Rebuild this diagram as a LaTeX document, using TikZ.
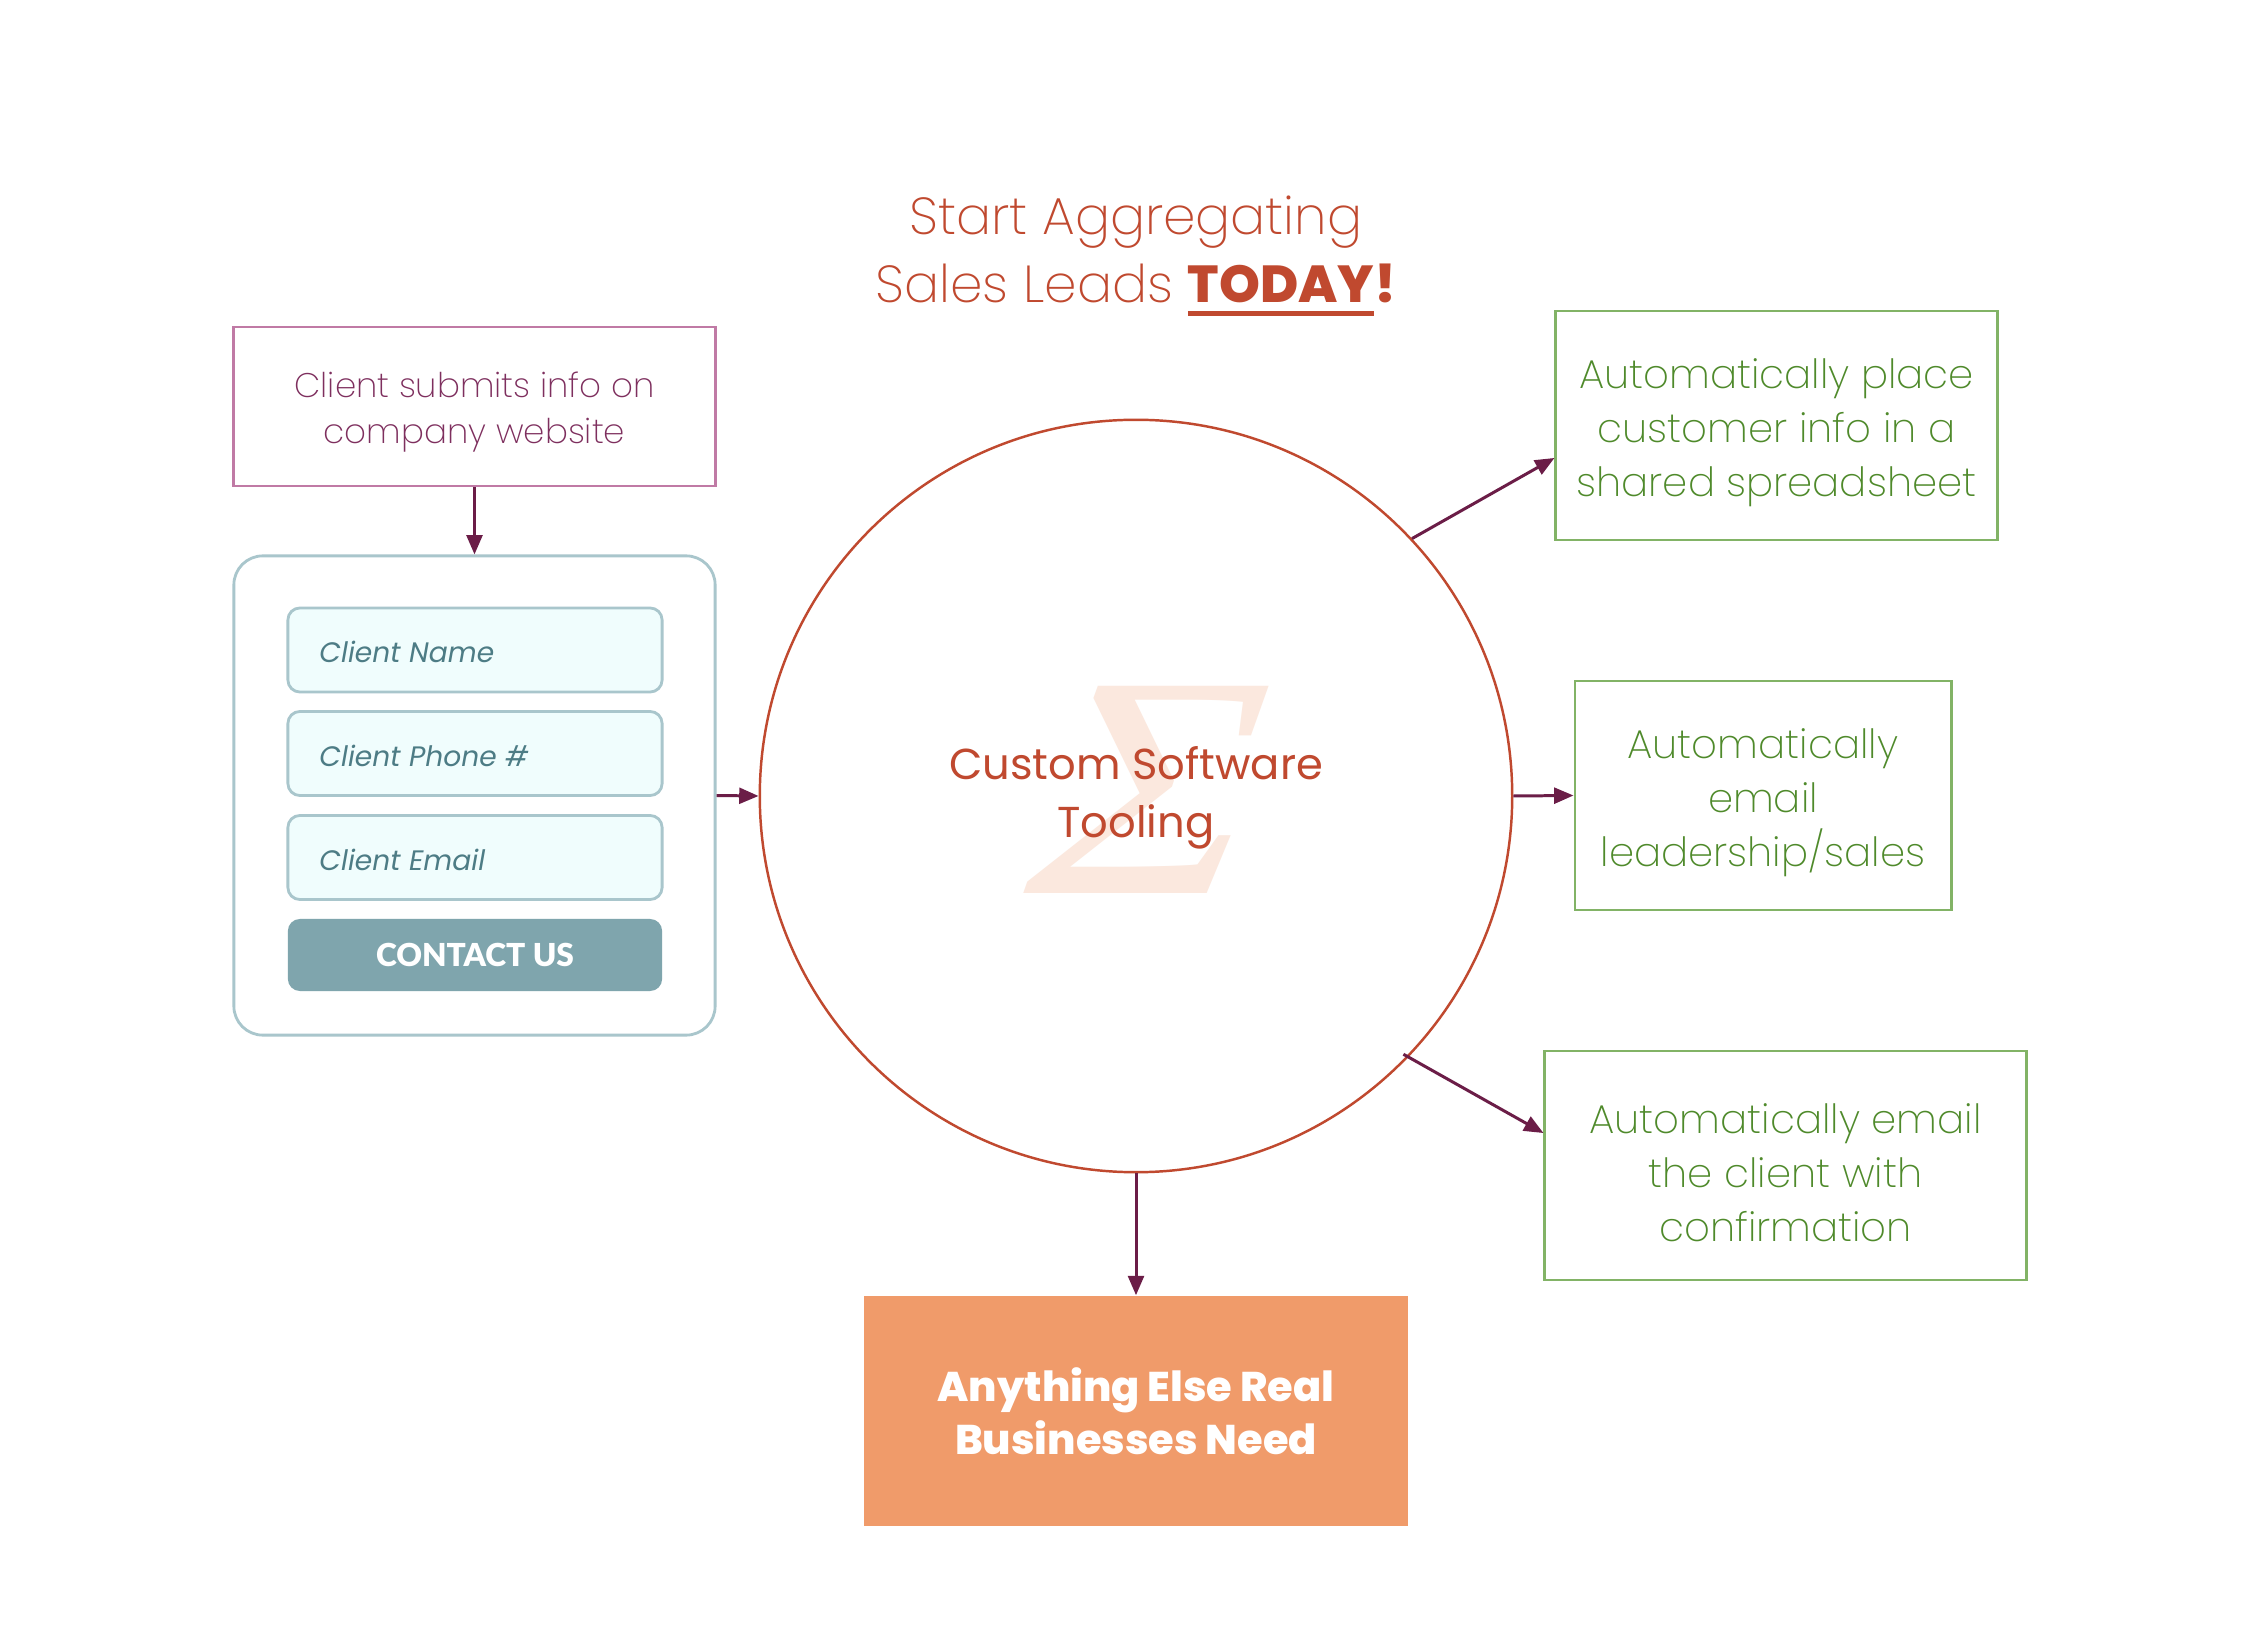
\documentclass[tikz,border=0pt]{standalone}
\usepackage{fontspec}
\usetikzlibrary{arrows.meta,calc}
\setmainfont{Poppins}
\newfontfamily\lightf{Poppins ExtraLight}
\newfontfamily\medf{Poppins}
\newfontfamily\heavyf{Poppins ExtraBold}
\newfontfamily\latof{Lato Black}
\newfontfamily\sigf{Liberation Serif}
\definecolor{rust}{HTML}{C0492F}
\definecolor{arrowc}{HTML}{6B1D47}
\definecolor{pinkb}{HTML}{C07AA5}
\definecolor{pinkt}{HTML}{7E2F5E}
\definecolor{greenb}{HTML}{82B366}
\definecolor{greent}{HTML}{4F8A2B}
\definecolor{formb}{HTML}{A9C6CC}
\definecolor{fieldf}{HTML}{F0FDFD}
\definecolor{fieldt}{HTML}{4D7C85}
\definecolor{btnf}{HTML}{7FA5AD}
\definecolor{orangef}{HTML}{F09B6A}
\definecolor{sigc}{HTML}{FBE8DE}
\newcommand{\thickul}[1]{\setbox0\hbox{#1}\rlap{\rule[-3.8pt]{\wd0}{1.4pt}}\box0}
\begin{document}
\begin{tikzpicture}[x=0.01cm,y=-0.01cm,
  arr/.style={draw=arrowc, line width=0.85pt, -{Triangle[length=5.5pt,width=4.5pt]}},
  greenbox/.style={draw=greenb, line width=0.8pt, minimum height=2.29cm},
  greentext/.style={align=center, text=greent, font=\lightf\fontsize{11.45}{15.4}\selectfont},
  fieldbox/.style={draw=formb, fill=fieldf, line width=0.8pt, rounded corners=0.12cm,
     minimum width=3.74cm, minimum height=0.84cm},
  fieldtext/.style={anchor=west, text=fieldt, font=\medf\itshape\fontsize{8.0}{10}\selectfont}]
\useasboundingbox[fill=white] (0,0) rectangle (2266,1640);

% title
\node[align=center, text=rust, font=\lightf\fontsize{14.8}{19.35}\selectfont] (title) at (1136,256)
  {Start Aggregating\\Sales Leads {\heavyf\thickul{TODAY}!}};

% left side
\node[draw=pinkb, line width=0.8pt, minimum width=4.81cm, minimum height=1.59cm] (client) at (474.5,406.5) {};
\node[align=center, text=pinkt, font=\lightf\fontsize{9.7}{13.1}\selectfont] (clientt) at (474.5,412.5)
  {Client submits info on\\company website};
\node[draw=formb, line width=0.8pt, rounded corners=0.29cm, minimum width=4.81cm, minimum height=4.79cm] (form) at (474.5,795.5) {};
\node[fieldbox] (f1) at (475,650) {};
\node[fieldbox] (f2) at (475,753.5) {};
\node[fieldbox] (f3) at (475,857.5) {};
\node[fill=btnf, rounded corners=0.12cm, minimum width=3.74cm, minimum height=0.72cm,
  text=white, font=\latof\fontsize{9.0}{10}\selectfont] (btn) at (475,955) {CONTACT US};
\node[fieldtext] (t1) at (307,652) {Client Name};
\node[fieldtext] (t2) at (307,755.5) {Client Phone \#};
\node[fieldtext] (t3) at (307,859.5) {Client Email};

% circle
\node[circle, draw=rust, line width=0.7pt, minimum size=7.52cm, inner sep=0pt] (c) at (1136,796) {};
\begin{scope}[shift={(1150,790)}]
\node[inner sep=0pt, xscale=1.2, xslant=0.1, transform shape, text=sigc,
  font=\sigf\itshape\fontsize{90}{90}\selectfont] (sig) at (0,0) {Σ};
\end{scope}
\node[align=center, text=rust, font=\medf\fontsize{12.3}{16.5}\selectfont] (ctext) at (1136,798)
  {Custom Software\\Tooling};

% right boxes
\node[greenbox, minimum width=4.41cm] (b1) at (1776.5,425.5) {};
\node[greentext] (b1t) at (1776.5,432.5) {Automatically place\\customer info in a\\shared spreadsheet};
\node[greenbox, minimum width=3.76cm] (b2) at (1763,795.5) {};
\node[greentext] (b2t) at (1763,802.5) {Automatically\\email\\leadership/sales};
\node[greenbox, minimum width=4.81cm] (b3) at (1785.5,1165.5) {};
\node[greentext] (b3t) at (1785.5,1172.5) {Automatically email\\the client with\\confirmation};

% bottom box
\node[fill=orangef, minimum width=5.44cm, minimum height=2.30cm, align=center,
  text=white, font=\heavyf\fontsize{11.8}{15.1}\selectfont] (other) at (1136,1411)
  {Anything Else Real\\Businesses Need};

% connectors
\draw[arr] (client.south) -- (form.north);
\draw[arr] (form.east) -- (c.west);
\draw[arr] (c.43) -- ($(b1.north west)!0.64!(b1.south west)$);
\draw[arr] (c.east) -- (b2.west);
\draw[arr] ($(c.center)!0.985!(c.-44)$) -- ($(b3.north west)!0.36!(b3.south west)$);
\draw[arr] (c.south) -- (other.north);
\end{tikzpicture}
\end{document}
